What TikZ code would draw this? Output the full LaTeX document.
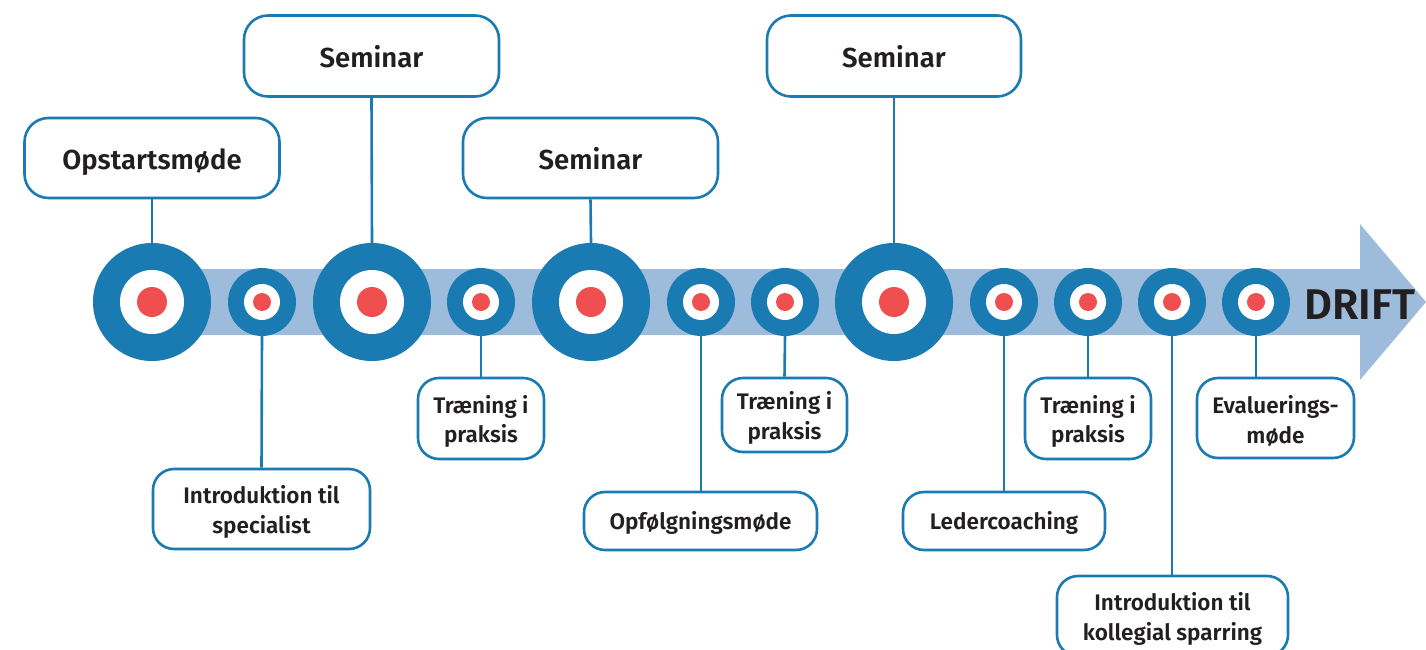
\documentclass[tikz,border=0pt]{standalone}
\usepackage{fontspec}
\setmainfont{Fira Sans}[BoldFont={Fira Sans SemiBold}]
\definecolor{tlblue}{HTML}{1A7AB2}
\definecolor{band}{HTML}{9DBCDC}
\definecolor{dot}{HTML}{EF4F4F}
\definecolor{txt}{HTML}{231F20}
\begin{document}
\begin{tikzpicture}[x=1pt,y=-1pt,
  box/.style={draw=tlblue, line width=2.6pt, fill=white, rounded corners=24pt, inner sep=0pt},
  sbox/.style={box, rounded corners=21pt},
  btxt/.style={align=center, inner sep=0pt, text=txt, yshift=-5pt, font=\bfseries\fontsize{27.5}{30}\selectfont},
  stxt/.style={align=center, inner sep=0pt, text=txt, yshift=-3pt, font=\bfseries\fontsize{22.5}{29.5}\selectfont},
  bigc/.style={circle, fill=tlblue, minimum size=118pt, inner sep=0pt},
  bigw/.style={circle, fill=white, minimum size=64pt, inner sep=0pt},
  bigr/.style={circle, fill=dot, minimum size=30pt, inner sep=0pt},
  smc/.style={circle, fill=tlblue, minimum size=68pt, inner sep=0pt},
  smw/.style={circle, fill=white, minimum size=36pt, inner sep=0pt},
  smr/.style={circle, fill=dot, minimum size=18pt, inner sep=0pt},
  conn/.style={draw=tlblue, line width=2.6pt}]
\useasboundingbox (0,0) rectangle (1426,650);
% band arrow
\fill[band] (152,269) -- (1360,269) -- (1360,224) -- (1426,302) -- (1360,380) -- (1360,335) -- (152,335) -- cycle;
% big circles
\foreach \n/\x in {b1/152,b2/372,b3/591,b4/894}{
  \node[bigc] (\n) at (\x,302) {};
  \node[bigw] at (\x,302) {};
  \node[bigr] at (\x,302) {};
}
% small circles
\foreach \n/\x in {c1/262,c2/481,c3/701,c4/785,c5/1004,c6/1088,c7/1172,c8/1256}{
  \node[smc] (\n) at (\x,302) {};
  \node[smw] at (\x,302) {};
  \node[smr] at (\x,302) {};
}
% top boxes
\node[box, minimum width=255pt, minimum height=80pt] (ob) at (152,158) {};
\node[box, minimum width=255pt, minimum height=81pt] (s1) at (371.5,56) {};
\node[box, minimum width=255pt, minimum height=80pt] (s2) at (590.5,158) {};
\node[box, minimum width=254pt, minimum height=81pt] (s3) at (894,56) {};
\node[btxt] (obt) at (ob) {\strut Opstartsmøde};
\node[btxt] (s1t) at (s1) {\strut Seminar};
\node[btxt] (s2t) at (s2) {\strut Seminar};
\node[btxt] (s3t) at (s3) {\strut Seminar};
% bottom boxes
\node[sbox, minimum width=217pt, minimum height=80pt] (is) at (261.5,509) {};
\node[sbox, minimum width=126pt, minimum height=81pt] (t1) at (481,418.5) {};
\node[sbox, minimum width=233pt, minimum height=58pt] (of) at (700.5,521) {};
\node[sbox, minimum width=125pt, minimum height=74pt] (t2) at (784.5,415) {};
\node[sbox, minimum width=202pt, minimum height=58pt] (lc) at (1004,521) {};
\node[sbox, minimum width=126pt, minimum height=81pt] (t3) at (1088,418.5) {};
\node[sbox, minimum width=231pt, minimum height=80pt] (ik) at (1172.5,616) {};
\node[sbox, minimum width=157pt, minimum height=80pt] (ev) at (1275.5,418) {};
\node[stxt] (ist) at (is) {Introduktion til\\specialist};
\node[stxt] (t1t) at (t1) {Træning i\\praksis};
\node[stxt] (oft) at (of) {\strut Opfølgningsmøde};
\node[stxt] (t2t) at (t2) {Træning i\\praksis};
\node[stxt] (lct) at (lc) {\strut Ledercoaching};
\node[stxt] (t3t) at (t3) {Træning i\\praksis};
\node[stxt] (ikt) at (ik) {Introduktion til\\kollegial sparring};
\node[stxt] (evt) at (ev) {Evaluerings-\\møde};
% connectors
\draw[conn] (ob.south) -- (b1.north);
\draw[conn] (s1.south) -- (b2.north);
\draw[conn] (s2.south) -- (b3.north);
\draw[conn] (s3.south) -- (b4.north);
\draw[conn] (c1.south) -- (is.north);
\draw[conn] (c2.south) -- (t1.north);
\draw[conn] (c3.south) -- (of.north -| c3.south);
\draw[conn] (c4.south) -- (t2.north);
\draw[conn] (c5.south) -- (lc.north);
\draw[conn] (c6.south) -- (t3.north);
\draw[conn] (c7.south) -- (ik.north -| c7.south);
\draw[conn] (c8.south) -- (ev.north -| c8.south);
% DRIFT
\node[anchor=base west, inner sep=0pt, text=txt, font=\bfseries\fontsize{43}{43}\selectfont] (drift) at (1304,319) {DRIFT};
\end{tikzpicture}
\end{document}
